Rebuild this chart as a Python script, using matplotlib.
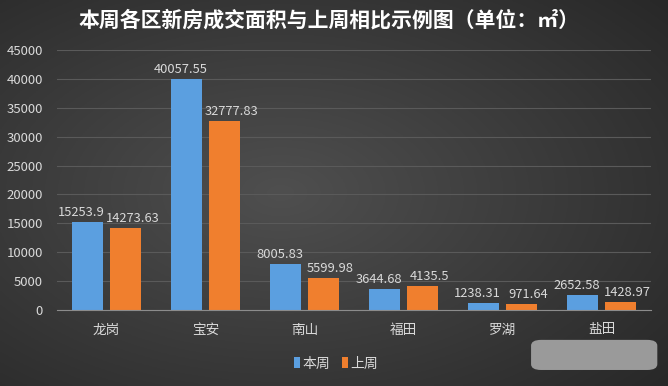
import numpy as np
import matplotlib
matplotlib.use("Agg")
import matplotlib.pyplot as plt
from matplotlib.patches import FancyBboxPatch

plt.rcParams['font.family'] = ['Noto Sans CJK SC', 'DejaVu Sans']

# data
districts = ['龙岗', '宝安', '南山', '福田', '罗湖', '盐田']
this_week = [15253.9, 40057.55, 8005.83, 3644.68, 1238.31, 2652.58]
last_week = [14273.63, 32777.83, 5599.98, 4135.5, 971.64, 1428.97]
this_labels = ['15253.9', '40057.55', '8005.83', '3644.68', '1238.31', '2652.58']
last_labels = ['14273.63', '32777.83', '5599.98', '4135.5', '971.64', '1428.97']
yticks = [0, 5000, 10000, 15000, 20000, 25000, 30000, 35000, 40000, 45000]

fig = plt.figure(figsize=(6.68, 3.86), dpi=100)

# dark gradient background
bg = fig.add_axes([0, 0, 1, 1], zorder=-10)
yy, xx = np.mgrid[0:1:200j, 0:1:300j]
r = np.sqrt(((xx - 0.42) / 0.9) ** 2 + ((yy - 0.5) / 0.9) ** 2)
shade = 0.31 - 0.18 * r
bg.imshow(np.dstack([shade, shade, shade]), aspect='auto', extent=[0, 1, 0, 1], origin='lower')
bg.set_axis_off()

ax = fig.add_axes([0.0853, 0.1969, 0.8893, 0.6736])
ax.patch.set_alpha(0)

x = np.arange(len(districts))
w = 0.31
b1 = ax.bar(x - 0.19, this_week, w, color='#5b9fe0', zorder=3)
b2 = ax.bar(x + 0.19, last_week, w, color='#f07f2e', zorder=3)

# value labels, nudged outwards like the original
for bars, labels, dx in [(b1, this_labels, -6), (b2, last_labels, 7)]:
    for rect, lab in zip(bars, labels):
        ax.annotate(lab, (rect.get_x() + rect.get_width() / 2, rect.get_height()),
                    xytext=(dx, 3), textcoords='offset pixels',
                    ha='center', va='bottom', color='#d9d9d9', fontsize=9.3)

ax.set_xlim(-0.5, len(districts) - 0.5)
ax.set_ylim(0, 45000)
ax.set_yticks(yticks)
ax.set_yticklabels([str(t) for t in yticks], color='#d9d9d9', fontsize=9.5)
ax.set_xticks(x)
ax.set_xticklabels(districts, color='#d9d9d9', fontsize=9.8)
ax.tick_params(axis='x', length=0, pad=9)
ax.tick_params(axis='y', length=0, pad=10)
ax.grid(axis='y', color='#5a5a5a', linewidth=0.8, zorder=0)
for s in ['top', 'right', 'left']:
    ax.spines[s].set_visible(False)
ax.spines['bottom'].set_color('#8c8c8c')
ax.spines['bottom'].set_zorder(4)

fig.text(0.492, 0.947, '本周各区新房成交面积与上周相比示例图（单位：㎡）', ha='center', va='center',
         color='white', fontsize=15, fontweight='bold')

leg = fig.legend([b1, b2], ['本周', '上周'], loc='center', bbox_to_anchor=(0.503, 0.058),
                 ncol=2, frameon=False, handlelength=0.45, handleheight=0.8,
                 handletextpad=0.2, columnspacing=0.8, fontsize=10)
for t in leg.get_texts():
    t.set_color('#d9d9d9')

# grey watermark box
fig.patches.append(FancyBboxPatch((0.795, 0.0415), 0.189, 0.078, boxstyle='round,pad=0,rounding_size=0.015',
                                  transform=fig.transFigure, facecolor='#9a9a9a', edgecolor='none'))

fig.savefig('out.png', dpi=100)
